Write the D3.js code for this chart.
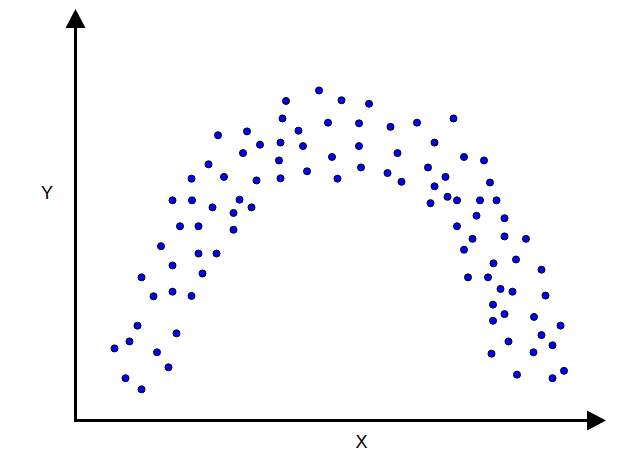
<!DOCTYPE html>
<html>
<head>
<meta charset="utf-8">
<script src="https://cdn.jsdelivr.net/npm/d3@7"></script>
<style>
    body { margin: 0; background: #fff; }
    svg { display: block; }
    .label { font-family: "Liberation Sans", Arial, sans-serif; font-size: 18px; fill: #000; }
</style>
</head>
<body>
<div id="chart"></div>
<script>
// Scatter of an arch-shaped cloud (0-10 units)

const xValues = [
    0.78, 1.00, 1.08, 1.24, 1.32, 1.32, 1.56, 1.63, 1.71, 1.86,
    1.94, 1.94, 1.94, 2.02, 2.09, 2.32, 2.33, 2.46, 2.46, 2.32,
    2.54, 2.66, 2.74, 2.82, 2.85, 2.97, 3.16, 3.16, 3.28, 3.35,
    3.43, 3.52, 3.62, 3.69, 4.07, 4.10, 4.10, 4.14, 4.21, 4.46,
    4.55, 4.63, 4.87, 5.05, 5.13, 5.24, 5.32, 5.67, 5.67, 5.71,
    5.87, 6.24, 6.30, 6.44, 6.52, 6.83, 7.05, 7.10, 7.18, 7.18,
    7.40, 7.44, 7.56, 7.63, 7.63, 7.77, 7.77, 7.85, 7.94, 8.02,
    8.09, 8.17, 8.25, 8.29, 8.32, 8.35, 8.35, 8.36, 8.42, 8.50,
    8.58, 8.58, 8.58, 8.66, 8.74, 8.81, 8.83, 9.01, 9.16, 9.17,
    9.32, 9.32, 9.40, 9.54, 9.54, 9.70, 9.77
];

const yValues = [
    2.06, 1.21, 2.26, 2.71, 0.89, 4.09, 3.55, 1.95, 4.98, 1.52,
    6.29, 4.43, 3.68, 2.49, 5.55, 6.91, 6.29, 5.55, 4.77, 3.56,
    4.20, 7.32, 6.09, 4.77, 8.15, 6.96, 5.93, 5.45, 6.31, 7.64,
    8.26, 6.09, 6.86, 7.88, 7.43, 7.94, 6.92, 8.63, 9.13, 8.28,
    7.84, 7.12, 9.43, 8.51, 7.53, 6.91, 9.15, 8.49, 7.84, 7.23,
    9.05, 7.07, 8.39, 7.64, 6.82, 8.51, 7.23, 6.21, 7.94, 6.69,
    6.96, 6.39, 8.63, 6.29, 5.55, 7.53, 4.88, 4.09, 5.19, 5.85,
    6.29, 7.43, 4.09, 6.80, 1.91, 3.31, 2.85, 4.49, 6.29, 3.76,
    5.78, 5.26, 3.04, 2.26, 3.68, 4.60, 1.31, 5.19, 1.95, 2.96,
    4.31, 2.44, 3.57, 1.21, 2.15, 2.71, 1.42
];

const axisLabels = ['X', 'Y'];

const width = 622;
const height = 475;

const svg = d3.select('#chart').append('svg')
    .attr('width', width)
    .attr('height', height);

const x = d3.scaleLinear()
    .domain([0, 10])
    .range([75.5, 575.5]);

const y = d3.scaleLinear()
    .domain([0, 10])
    .range([420.5, 70.5]);

const points = xValues.map((d, i) => ({ x: d, y: yValues[i] }));

// axes: plain lines with arrow heads, no ticks
const x0 = x(0), y0 = y(0);
const xEnd = 606, yEnd = 9, head = 19, half = 10;

svg.append('line')
    .attr('x1', x0).attr('y1', y0 + 1.5)
    .attr('x2', x0).attr('y2', yEnd + head)
    .attr('stroke', '#000').attr('stroke-width', 3);

svg.append('line')
    .attr('x1', x0 - 1.5).attr('y1', y0)
    .attr('x2', xEnd - head).attr('y2', y0)
    .attr('stroke', '#000').attr('stroke-width', 3);

svg.append('path')
    .attr('d', `M${x0},${yEnd} L${x0 - half},${yEnd + head} L${x0 + half},${yEnd + head} Z`)
    .attr('fill', '#000');

svg.append('path')
    .attr('d', `M${xEnd},${y0} L${xEnd - head},${y0 - half} L${xEnd - head},${y0 + half} Z`)
    .attr('fill', '#000');

svg.append('g')
    .selectAll('circle')
    .data(points)
    .join('circle')
    .attr('cx', d => x(d.x))
    .attr('cy', d => y(d.y))
    .attr('r', 3.5)
    .attr('fill', '#0000ff')
    .attr('stroke', '#000')
    .attr('stroke-width', 1);

svg.append('text')
    .attr('class', 'label')
    .attr('x', 361.5)
    .attr('y', 442)
    .attr('text-anchor', 'middle')
    .attr('dominant-baseline', 'central')
    .text(axisLabels[0]);

svg.append('text')
    .attr('class', 'label')
    .attr('x', 47)
    .attr('y', 193)
    .attr('text-anchor', 'middle')
    .attr('dominant-baseline', 'central')
    .text(axisLabels[1]);
</script>
</body>
</html>
